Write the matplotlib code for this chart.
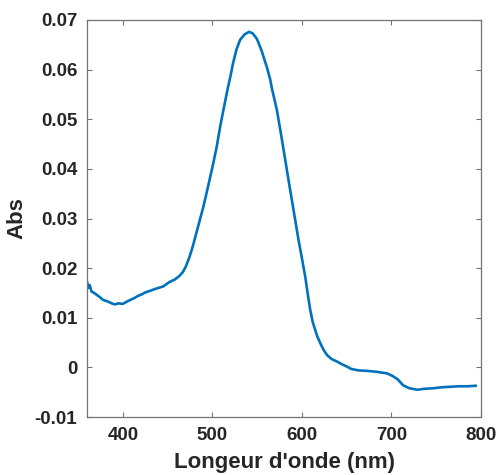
import matplotlib.pyplot as plt

# spectre d'absorption
wavelength = [360, 361.5, 363, 365, 368, 371, 374, 378, 383, 387.6, 391, 395, 400,
              406, 412, 417, 421, 425, 430, 436, 445, 452, 458, 463, 467, 470,
              474, 478, 482, 486, 490, 494, 498, 501, 505, 508.7, 512.5, 516.8,
              520, 523, 527, 531, 536, 541, 545, 549.7, 555, 561, 564.6, 566.5,
              572, 576, 581.4, 585, 588.8, 592.5, 596.2, 600, 603.7, 606.5, 609.3,
              612, 614.9, 617.5, 620.5, 624, 628, 633, 639, 645, 650, 655,
              663, 673, 684, 695, 701, 707, 713, 720, 729, 737, 747, 756, 766,
              775, 785, 794]
absorbance = [0.0173, 0.0160, 0.0166, 0.0153, 0.0150, 0.0146, 0.0142, 0.0136, 0.0133, 0.0129,
              0.0127, 0.0129, 0.0128, 0.0134, 0.0139, 0.0144, 0.0147, 0.0151, 0.0154, 0.0158,
              0.0163, 0.0172, 0.0177, 0.0184, 0.0192, 0.0202, 0.0220, 0.0243, 0.0270,
              0.0297, 0.0324, 0.0355, 0.0387, 0.0411, 0.0446, 0.0485, 0.0520, 0.0559,
              0.0585, 0.0612, 0.0641, 0.0660, 0.0671, 0.0676, 0.0673, 0.0662, 0.0638,
              0.0604, 0.0580, 0.0562, 0.0519, 0.0477, 0.0418, 0.0378, 0.0337, 0.0297,
              0.0257, 0.0220, 0.0183, 0.0148, 0.0116, 0.0092, 0.0075, 0.0061, 0.0049,
              0.0036, 0.0025, 0.0017, 0.0012, 0.0006, 0.0002, -0.0003,
              -0.0006, -0.0007, -0.0009, -0.0012, -0.0017, -0.0024, -0.0036, -0.0042,
              -0.0045, -0.0043, -0.0042, -0.0040, -0.0039, -0.0038, -0.0038, -0.0037]

x_ticks = [400, 500, 600, 700, 800]
y_ticks = [-0.01, 0, 0.01, 0.02, 0.03, 0.04, 0.05, 0.06, 0.07]
y_labels = ['-0.01', '0', '0.01', '0.02', '0.03', '0.04', '0.05', '0.06', '0.07']

plt.rcParams['font.family'] = ['Liberation Sans', 'DejaVu Sans']

fig = plt.figure(figsize=(5, 4.75), dpi=100)
ax = fig.add_axes([0.174, 0.122, 0.788, 0.836])

ax.plot(wavelength, absorbance, color='#0072BD', linewidth=1.9)

ax.set_xlim(360, 800)
ax.set_ylim(-0.01, 0.07)
ax.set_xticks(x_ticks)
ax.set_yticks(y_ticks)
ax.set_yticklabels(y_labels)

ax.tick_params(direction='in', length=3.5, width=0.8, top=True, right=True,
               color='0.45', labelcolor='#262626', labelsize=13.5, pad=7)
for lab in ax.get_xticklabels() + ax.get_yticklabels():
    lab.set_fontweight('bold')
for sp in ax.spines.values():
    sp.set_color('0.45')
    sp.set_linewidth(0.9)

ax.set_xlabel("Longeur d'onde (nm)", fontsize=16, fontweight='bold', color='#262626', labelpad=6)
ax.set_ylabel('Abs', fontsize=16, fontweight='bold', color='#262626', labelpad=5)

fig.savefig('out.png', dpi=100)
